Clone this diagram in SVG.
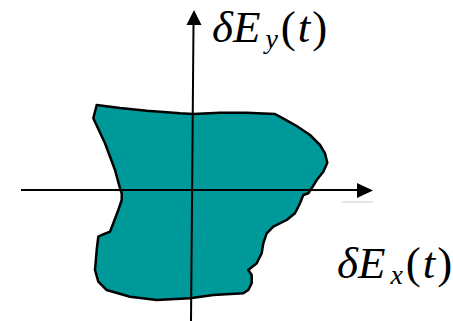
<svg xmlns="http://www.w3.org/2000/svg" width="453" height="321" viewBox="0 0 453 321">
<defs>
<style>
.ax{stroke:#000;stroke-width:2;fill:none}
.lbl{font-family:"Liberation Serif","Times New Roman",serif;font-size:45px;fill:#000}
.it{font-style:italic}
.sub{font-size:28px;font-style:italic}
</style>
</defs>
<rect width="453" height="321" fill="#fff"/>
<g id="region">
<path d="M96.7,105 L120,108 L146.7,110.7 L180,113.3 L193,114 L220,112.7 L246.7,112.7 L275,114 L283,118.3 L296.7,126 L310,135 L320,145 L325,153.3 L327.3,162.7 L323.3,171.7 L316.7,180 L311.7,188.3 L308.3,193.3 L303.3,195 L300,203.3 L295,213.3 L286.7,220 L273.3,226.7 L266.7,233.3 L263.3,243.3 L261.7,253.3 L256.7,263.3 L248.3,270 L251.7,275 L251.7,283.3 L248.3,290 L243.3,293.3 L213.3,295 L190,298.3 L156.7,300 L130,296.7 L106.7,290 L98.3,281.7 L95,270 L96.7,250 L98.3,236.7 L101.7,235 L110,231.7 L113.3,223.3 L118.3,210 L121.7,200 L121.7,193.3 L120,188.3 L115,170 L105,143.3 L93.3,118.3 Z" fill="#009999" stroke="#000" stroke-width="2.5" stroke-linejoin="round"/>
</g>
<g id="connectors">
<line class="ax" x1="21" y1="190" x2="358" y2="190"/>
<polygon points="373,190.5 357,183 357,198" fill="#000"/>
<line x1="342" y1="202" x2="373" y2="202" stroke="#ccc" stroke-width="1"/>
<line class="ax" x1="193.5" y1="24" x2="191" y2="321"/>
<polygon points="194,10 186.5,25 201.5,25" fill="#000"/>
</g>
<g id="label-y">
<text class="lbl" x="212" y="42"><tspan class="it">δE</tspan><tspan class="sub" dx="5" dy="6">y</tspan><tspan dx="3" dy="-6">(</tspan><tspan class="it" dx="2">t</tspan><tspan dx="2">)</tspan></text>
</g>
<g id="label-x">
<text class="lbl" x="337" y="278"><tspan class="it">δE</tspan><tspan class="sub" dx="5" dy="6">x</tspan><tspan dx="3" dy="-6">(</tspan><tspan class="it" dx="2">t</tspan><tspan dx="2">)</tspan></text>
</g>
</svg>
